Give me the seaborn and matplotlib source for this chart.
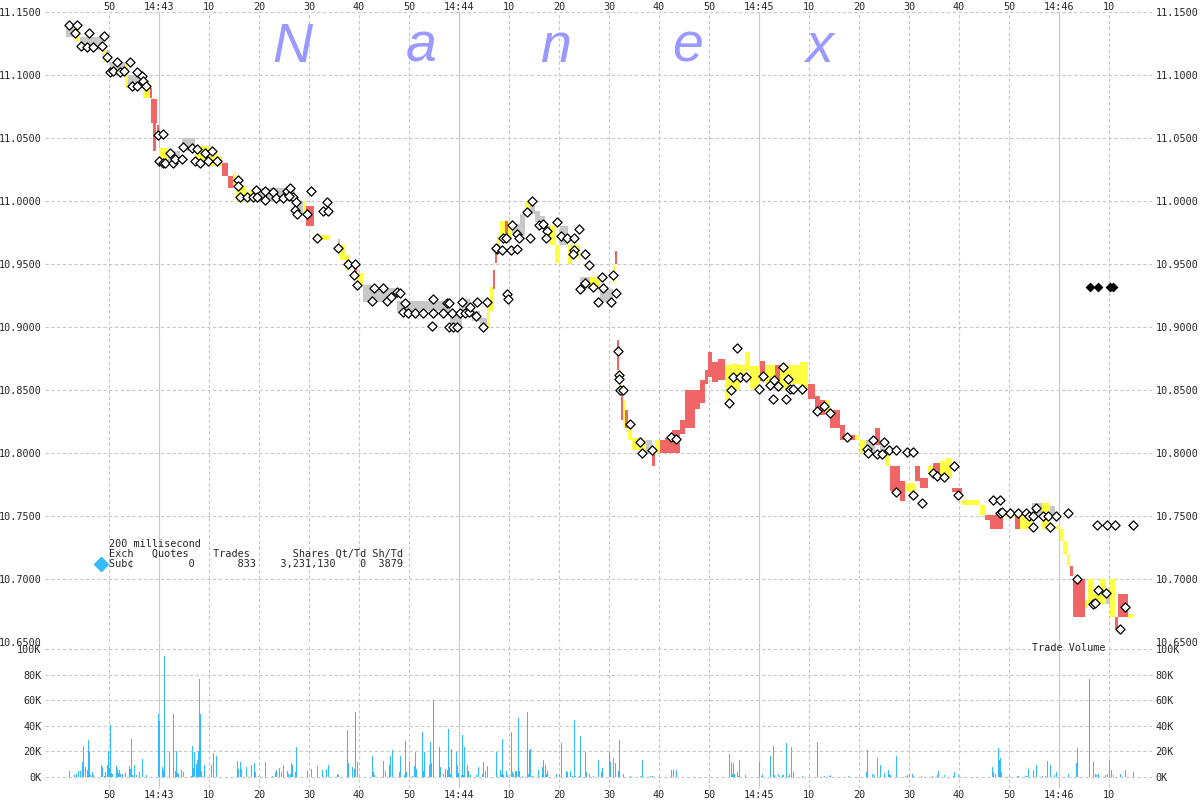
import matplotlib
matplotlib.use("Agg")
import matplotlib.pyplot as plt
from matplotlib.ticker import FixedLocator, FuncFormatter
import seaborn as sns
import pandas as pd

# time axis: seconds after 14:43:00
# NBBO band, one block per quote period (start, end, low, high, kind)
band_t0 = [-18.6, -16.6, -15.8, -11.2, -10.6, -9.8, -6.8, -6.2, -3.2, -1.8,
           -1.6, -1.2, -0.4, 0.0, 0.8, 1.8, 4.6, 7.2, 10.2, 11.6,
           12.6, 13.8, 14.8, 15.4, 17.2, 20.2, 27.2, 27.8, 28.8, 29.4,
           31.0, 35.8, 36.2, 37.2, 39.0, 39.6, 40.8, 43.2, 45.2, 47.6,
           50.2, 56.2, 58.2, 60.6, 62.6, 64.2, 65.6, 66.2, 66.8, 67.2,
           67.6, 68.2, 69.2, 69.8, 70.6, 72.2, 73.2, 74.2, 75.2, 76.2,
           77.2, 78.2, 79.2, 80.2, 81.8, 82.6, 84.2, 86.2, 88.2, 90.8,
           91.2, 91.6, 92.0, 92.4, 92.8, 93.2, 93.8, 94.6, 96.2, 97.4,
           98.6, 99.2, 100.2, 101.2, 102.6, 104.2, 105.2, 107.2, 108.2, 109.2,
           109.8, 110.6, 111.8, 113.2, 114.2, 116.2, 117.2, 118.2, 120.2, 121.2,
           123.2, 124.2, 126.2, 128.2, 129.8, 131.2, 132.2, 133.2, 134.2, 136.2,
           137.2, 139.2, 140.2, 141.4, 143.2, 144.2, 145.2, 146.2, 148.2, 149.2,
           150.2, 151.2, 152.2, 153.8, 154.8, 156.2, 157.2, 158.6, 159.8, 160.6,
           164.2, 165.2, 166.2, 168.8, 171.2, 172.2, 174.6, 176.6, 178.2, 179.2,
           180.2, 180.8, 181.6, 182.2, 182.8, 185.2, 185.8, 186.8, 188.2, 189.4,
           190.2, 191.2, 191.8, 193.8]
band_t1 = [-16.6, -16.0, -11.2, -10.6, -9.8, -6.8, -6.2, -3.2, -1.8, -1.4,
           -0.4, -0.6, 0.0, 0.8, 1.8, 4.2, 7.2, 10.2, 11.6, 12.6,
           13.8, 14.8, 15.4, 17.2, 19.6, 27.2, 27.8, 28.8, 29.4, 31.0,
           34.2, 36.2, 37.2, 38.2, 39.6, 40.8, 43.2, 45.2, 47.2, 50.2,
           56.2, 58.2, 60.6, 62.2, 64.2, 65.6, 66.2, 66.8, 67.2, 67.6,
           68.2, 69.2, 69.8, 70.6, 72.2, 73.2, 74.2, 75.2, 76.2, 77.2,
           78.2, 79.2, 80.2, 81.8, 82.6, 84.2, 86.2, 88.2, 90.8, 91.2,
           91.6, 92.0, 92.4, 92.8, 93.2, 93.8, 94.6, 96.2, 97.4, 98.6,
           99.2, 100.2, 101.2, 102.6, 104.2, 105.2, 107.2, 108.2, 109.2, 109.8,
           110.6, 111.8, 113.2, 114.2, 116.2, 117.2, 118.2, 120.2, 121.2, 123.2,
           124.2, 126.2, 128.2, 129.8, 131.2, 132.2, 133.2, 134.2, 136.2, 137.2,
           139.2, 140.2, 141.4, 143.2, 144.2, 145.2, 146.2, 148.2, 149.2, 150.2,
           151.2, 152.2, 153.8, 154.8, 156.2, 157.2, 158.6, 159.8, 160.6, 164.2,
           165.2, 166.2, 168.8, 171.2, 172.2, 174.6, 176.6, 178.2, 179.2, 180.2,
           180.8, 181.6, 182.2, 182.8, 185.2, 185.8, 186.8, 188.2, 189.4, 190.2,
           191.2, 191.8, 193.8, 194.8]
band_lo = [11.130, 11.127, 11.120, 11.110, 11.110, 11.100, 11.090, 11.090, 11.082, 11.082,
           11.062, 11.040, 11.052, 11.034, 11.032, 11.032, 11.040, 11.032, 11.028, 11.028,
           11.020, 11.010, 11.012, 11.000, 11.000, 11.000, 10.990, 10.990, 10.988, 10.980,
           10.969, 10.960, 10.953, 10.945, 10.940, 10.933, 10.920, 10.920, 10.923, 10.911,
           10.913, 10.910, 10.900, 10.913, 10.905, 10.899, 10.899, 10.913, 10.930, 10.951,
           10.960, 10.968, 10.968, 10.970, 10.975, 10.972, 10.990, 10.990, 10.983, 10.980,
           10.972, 10.965, 10.951, 10.965, 10.950, 10.955, 10.930, 10.930, 10.920, 10.935,
           10.950, 10.866, 10.846, 10.826, 10.820, 10.820, 10.810, 10.802, 10.800, 10.800,
           10.790, 10.800, 10.800, 10.800, 10.800, 10.815, 10.820, 10.835, 10.840, 10.855,
           10.860, 10.856, 10.858, 10.842, 10.850, 10.860, 10.865, 10.851, 10.857, 10.855,
           10.857, 10.851, 10.855, 10.850, 10.843, 10.834, 10.830, 10.830, 10.820, 10.810,
           10.810, 10.810, 10.800, 10.800, 10.806, 10.800, 10.790, 10.770, 10.762, 10.770,
           10.766, 10.778, 10.772, 10.784, 10.780, 10.780, 10.780, 10.769, 10.766, 10.759,
           10.751, 10.747, 10.740, 10.749, 10.740, 10.740, 10.750, 10.740, 10.750, 10.740,
           10.730, 10.720, 10.710, 10.702, 10.670, 10.677, 10.680, 10.680, 10.680, 10.680,
           10.670, 10.660, 10.670, 10.669]
band_hi = [11.140, 11.137, 11.130, 11.120, 11.120, 11.110, 11.110, 11.100, 11.095, 11.090,
           11.081, 11.064, 11.060, 11.042, 11.042, 11.040, 11.050, 11.044, 11.040, 11.036,
           11.030, 11.020, 11.022, 11.012, 11.008, 11.010, 11.003, 11.000, 11.000, 10.996,
           10.973, 10.970, 10.965, 10.957, 10.950, 10.943, 10.933, 10.930, 10.931, 10.921,
           10.921, 10.921, 10.913, 10.922, 10.913, 10.907, 10.920, 10.932, 10.945, 10.965,
           10.972, 10.984, 10.984, 10.983, 10.982, 10.990, 11.000, 11.000, 10.992, 10.988,
           10.980, 10.980, 10.965, 10.980, 10.965, 10.965, 10.940, 10.940, 10.930, 10.950,
           10.960, 10.890, 10.866, 10.846, 10.842, 10.834, 10.822, 10.812, 10.810, 10.810,
           10.802, 10.810, 10.810, 10.812, 10.818, 10.826, 10.850, 10.850, 10.858, 10.866,
           10.880, 10.872, 10.875, 10.870, 10.871, 10.870, 10.880, 10.869, 10.873, 10.870,
           10.870, 10.870, 10.870, 10.872, 10.855, 10.845, 10.842, 10.842, 10.834, 10.822,
           10.814, 10.814, 10.810, 10.810, 10.820, 10.810, 10.800, 10.790, 10.778, 10.776,
           10.776, 10.790, 10.780, 10.790, 10.792, 10.794, 10.796, 10.772, 10.772, 10.763,
           10.759, 10.751, 10.751, 10.753, 10.753, 10.753, 10.760, 10.760, 10.758, 10.742,
           10.740, 10.730, 10.720, 10.710, 10.700, 10.683, 10.700, 10.688, 10.700, 10.688,
           10.700, 10.670, 10.688, 10.672]
# g = normal spread, y = quote change, r = crossed / fading
band_kind = list("gygyggygyr"
                 "rrryyggyyy"
                 "rryyygygyr"
                 "ygyyryggg" "g"
                 "ggggggyyrr"
                 "yyryggyggg"
                 "gyygyygygy"
                 "rryryryyyg"
                 "ryrrrrrrrr"
                 "rrryyyyyry"
                 "ryyyrrryrr"
                 "ryygrgyrry"
                 "yrryryyrry"
                 "yrryrygygy"
                 "yyyrryyyyg"
                 "yrry")

# trades (hollow diamonds)
trade_t = [-18.0, -16.4, -16.8, -15.6, -14.4, -14.0, -13.2, -11.4, -11.0, -10.4,
           -9.8, -9.2, -8.4, -7.8, -7.0, -5.8, -5.4, -4.4, -4.4, -3.4,
           -3.2, -2.6, -0.2, 0.8, 0.0, 0.8, 1.2, 2.2, 2.8, 3.2,
           4.6, 4.8, 6.6, 7.6, 7.2, 8.2, 9.2, 9.8, 10.6, 11.6,
           15.8, 15.8, 16.2, 17.6, 18.8, 19.4, 19.6, 21.2, 21.2, 22.8,
           23.4, 24.8, 25.6, 26.2, 26.8, 26.0, 27.4, 27.2, 27.6, 29.6,
           30.4, 33.6, 32.8, 33.8, 31.6, 35.8, 37.8, 39.2, 39.0, 39.6,
           43.0, 42.6, 44.8, 45.6, 46.4, 47.6, 48.2, 49.2, 48.8, 49.8,
           51.2, 52.8, 54.8, 54.8, 54.6, 56.8, 57.6, 58.0, 58.6, 58.0,
           58.8, 59.6, 60.6, 60.2, 61.2, 62.0, 62.2, 63.6, 65.6, 63.4,
           64.8, 67.6, 69.6, 69.8, 67.4, 68.6, 70.4, 71.6, 68.8, 69.4,
           71.6, 72.0, 70.6, 73.6, 74.6, 74.2, 76.0, 76.8, 77.6, 77.4,
           79.6, 80.4, 81.6, 83.0, 84.0, 83.0, 85.2, 86.0, 82.8, 84.2,
           85.2, 86.8, 88.6, 88.8, 87.8, 90.4, 90.8, 91.4, 91.8, 92.0,
           92.0, 92.2, 92.8, 94.2, 96.2, 96.6, 98.6, 102.4, 103.4, 114.0,
           114.4, 114.8, 115.6, 116.2, 117.4, 120.0, 120.8, 122.2, 122.8, 123.0,
           123.8, 124.8, 125.4, 125.8, 126.2, 126.8, 128.6, 131.6, 133.0, 134.2,
           137.6, 141.6, 141.8, 142.8, 143.6, 144.6, 145.0, 146.0, 147.4, 149.6,
           150.8, 147.4, 150.8, 152.6, 154.8, 155.6, 157.0, 159.0, 159.8, 166.8,
           168.2, 168.2, 168.6, 170.2, 171.8, 173.4, 174.0, 174.8, 175.4, 174.8,
           176.8, 177.8, 179.4, 178.2, 181.8, 183.6, 187.8, 186.8, 187.2, 189.4,
           193.2, 192.2, 187.6, 189.6, 191.2, 194.8]
trade_p = [11.140, 11.140, 11.133, 11.123, 11.122, 11.133, 11.122, 11.123, 11.131, 11.114,
           11.102, 11.103, 11.110, 11.102, 11.103, 11.110, 11.091, 11.102, 11.091, 11.099,
           11.095, 11.091, 11.052, 11.053, 11.032, 11.030, 11.030, 11.038, 11.030, 11.033,
           11.033, 11.043, 11.042, 11.041, 11.032, 11.030, 11.038, 11.032, 11.040, 11.032,
           11.017, 11.012, 11.003, 11.003, 11.003, 11.009, 11.003, 11.008, 11.001, 11.007,
           11.002, 11.002, 11.008, 11.010, 11.003, 11.004, 10.999, 10.993, 10.990, 10.990,
           11.008, 10.999, 10.992, 10.992, 10.971, 10.963, 10.950, 10.950, 10.941, 10.933,
           10.931, 10.921, 10.931, 10.921, 10.924, 10.928, 10.927, 10.919, 10.912, 10.911,
           10.911, 10.911, 10.922, 10.911, 10.901, 10.911, 10.919, 10.919, 10.911, 10.900,
           10.900, 10.900, 10.920, 10.911, 10.911, 10.912, 10.916, 10.920, 10.920, 10.909,
           10.900, 10.962, 10.926, 10.922, 10.963, 10.961, 10.961, 10.962, 10.971, 10.971,
           10.974, 10.971, 10.981, 10.991, 11.000, 10.971, 10.981, 10.982, 10.976, 10.971,
           10.983, 10.972, 10.971, 10.971, 10.978, 10.961, 10.958, 10.949, 10.958, 10.930,
           10.935, 10.932, 10.940, 10.931, 10.920, 10.920, 10.941, 10.927, 10.881, 10.862,
           10.859, 10.850, 10.850, 10.823, 10.809, 10.800, 10.802, 10.813, 10.811, 10.840,
           10.850, 10.860, 10.883, 10.860, 10.860, 10.851, 10.861, 10.854, 10.843, 10.858,
           10.853, 10.868, 10.843, 10.859, 10.851, 10.851, 10.851, 10.833, 10.837, 10.832,
           10.813, 10.803, 10.800, 10.810, 10.799, 10.799, 10.809, 10.802, 10.802, 10.801,
           10.801, 10.769, 10.767, 10.760, 10.784, 10.782, 10.781, 10.790, 10.767, 10.763,
           10.763, 10.752, 10.753, 10.752, 10.752, 10.752, 10.750, 10.750, 10.756, 10.741,
           10.750, 10.750, 10.750, 10.741, 10.752, 10.700, 10.691, 10.680, 10.681, 10.689,
           10.678, 10.660, 10.743, 10.743, 10.743, 10.743]

# out-of-sequence prints (filled diamonds)
odd_t = [186.2, 187.8, 190.2, 190.8]
odd_p = [10.932, 10.932, 10.932, 10.932]

# trade volume per 200 ms, thousands of shares
vol_t = [-18.0, -17.0, -16.6, -16.2, -15.8, -15.4, -15.2, -14.8, -14.4, -14.2,
         -14.0, -13.8, -13.4, -13.2, -11.6, -11.4, -11.0, -10.8, -10.4, -10.2,
         -10.0, -9.8, -9.6, -9.4, -8.6, -8.4, -8.2, -8.0, -7.8, -7.4,
         -6.8, -6.0, -5.8, -5.6, -5.4, -5.0, -4.6, -4.0, -3.4, -2.6,
         -0.2, 0.0, 0.6, 0.8, 1.0, 2.0, 2.8, 3.2, 3.4, 3.6,
         3.8, 4.4, 4.8, 6.4, 6.6, 6.8, 7.0, 7.4, 7.6, 7.8,
         8.0, 8.2, 8.4, 9.0, 10.4, 10.8, 11.4, 15.6, 15.8, 16.2,
         16.4, 17.4, 18.4, 19.0, 19.2, 19.8, 21.2, 22.6, 23.2, 23.4,
         24.0, 24.4, 24.8, 25.6, 25.8, 26.2, 26.4, 26.6, 27.2, 27.4,
         29.6, 30.4, 31.6, 32.6, 33.4, 33.8, 35.6, 35.8, 37.6, 37.8,
         38.6, 39.0, 39.2, 39.6, 42.6, 42.8, 43.0, 44.8, 45.2, 46.0,
         46.2, 46.6, 48.0, 48.2, 49.0, 49.2, 49.4, 50.0, 50.6, 51.0,
         51.2, 51.4, 52.6, 52.8, 53.0, 54.0, 54.2, 54.4, 54.8, 56.0,
         56.2, 56.8, 57.2, 57.6, 57.8, 58.0, 58.2, 58.4, 59.4, 59.6,
         59.8, 60.4, 60.6, 60.8, 61.0, 61.6, 61.8, 62.2, 63.4, 63.8,
         64.6, 64.8, 65.2, 65.6, 67.4, 68.2, 68.4, 68.6, 68.8, 69.4,
         69.6, 70.4, 70.6, 70.8, 71.2, 71.4, 71.8, 72.0, 72.6, 73.6,
         73.8, 74.0, 74.2, 74.6, 75.8, 76.6, 76.8, 77.2, 77.4, 77.6,
         79.4, 80.0, 80.4, 81.4, 81.6, 82.2, 82.6, 83.0, 83.2, 84.0,
         84.2, 85.2, 85.4, 86.0, 86.8, 87.8, 88.4, 88.6, 90.0, 90.2,
         90.8, 91.2, 91.8, 92.0, 92.8, 94.2, 96.2, 96.6, 98.2, 98.6,
         102.4, 102.8, 103.4, 114.0, 114.4, 114.6, 114.8, 115.0, 115.6, 115.8,
         116.0, 117.2, 120.0, 120.4, 120.6, 122.2, 122.8, 123.0, 123.8, 124.6,
         124.8, 125.4, 125.8, 126.0, 126.4, 126.8, 128.6, 131.6, 133.0, 134.0,
         134.2, 137.8, 141.4, 141.6, 142.6, 143.0, 143.6, 144.2, 145.0, 145.8,
         146.0, 146.2, 147.4, 149.2, 149.6, 150.0, 150.6, 150.8, 152.4, 154.6,
         155.6, 155.8, 157.0, 158.8, 159.0, 159.8, 166.6, 166.8, 167.2, 167.8,
         168.0, 168.2, 168.4, 170.0, 171.6, 171.8, 173.2, 173.4, 173.8, 174.8,
         175.4, 176.6, 177.2, 177.6, 178.2, 179.0, 179.4, 181.8, 183.4, 183.6,
         186.0, 186.8, 187.2, 187.4, 187.8, 189.2, 189.6, 190.0, 190.4, 190.8,
         192.2, 193.2, 194.8]
vol_k = [4.7, 1.6, 2.4, 4.7, 4.7, 11.7, 24.2, 7.8, 5.5, 28.9,
         20.3, 1.6, 3.9, 1.6, 9.4, 7.8, 0.8, 3.9, 9.4, 20.3,
         7.0, 40.6, 3.1, 2.3, 8.6, 6.3, 3.1, 5.5, 2.3, 2.3,
         3.1, 8.6, 6.3, 29.7, 1.6, 9.4, 1.6, 3.9, 14.0, 1.6,
         49.0, 43.8, 7.8, 5.5, 94.5, 19.5, 49.0, 4.7, 20.3, 3.1,
         2.3, 5.5, 3.9, 0.8, 24.2, 7.0, 19.5, 10.2, 13.3, 20.3,
         76.6, 49.0, 4.7, 9.4, 9.4, 18.8, 16.4, 12.5, 6.3, 11.7,
         6.3, 7.8, 9.4, 10.9, 3.9, 0.8, 11.7, 0.8, 3.9, 5.5,
         7.0, 3.9, 9.4, 4.7, 2.3, 2.3, 10.9, 9.4, 3.9, 23.4,
         4.7, 6.3, 8.6, 5.5, 6.3, 9.4, 2.3, 1.6, 36.7, 10.9,
         7.8, 6.3, 50.8, 11.7, 16.4, 3.9, 1.6, 12.5, 4.7, 9.4,
         16.4, 21.0, 3.9, 16.4, 1.6, 28.1, 3.9, 12.5, 0.8, 8.6,
         19.5, 6.3, 35.2, 4.7, 19.5, 9.4, 27.3, 10.9, 60.2, 23.4,
         7.8, 2.3, 6.3, 5.5, 37.5, 7.8, 2.3, 21.9, 19.5, 9.4,
         3.1, 1.6, 32.8, 1.6, 23.4, 9.4, 4.7, 1.6, 1.6, 7.8,
         2.3, 11.7, 4.7, 8.6, 19.5, 5.5, 2.3, 29.7, 1.6, 4.7,
         1.6, 35.2, 3.9, 2.3, 4.7, 4.7, 46.0, 4.7, 0.8, 50.8,
         2.3, 21.0, 21.9, 0.8, 5.5, 7.8, 13.3, 9.4, 2.3, 4.7,
         2.3, 2.3, 26.6, 4.7, 3.9, 4.7, 0.8, 44.5, 0.8, 0.8,
         32.0, 19.5, 3.9, 2.3, 0.8, 13.3, 3.9, 7.0, 19.5, 11.7,
         14.8, 10.9, 4.7, 28.9, 2.3, 0.8, 0.8, 13.3, 0.8, 0.8,
         5.5, 5.5, 5.5, 18.0, 11.7, 2.3, 10.9, 2.3, 3.9, 0.8,
         13.3, 1.6, 11.7, 0.8, 2.3, 16.4, 24.2, 1.6, 2.3, 1.6,
         1.6, 26.6, 0.8, 2.3, 23.4, 3.9, 0.8, 27.3, 0.8, 0.8,
         1.6, 0.8, 3.9, 21.0, 2.3, 1.6, 14.8, 9.4, 3.1, 5.5,
         2.3, 1.6, 16.4, 0.8, 1.6, 2.3, 2.3, 0.8, 0.8, 0.8,
         1.6, 4.7, 1.6, 0.8, 3.9, 1.6, 7.8, 3.9, 2.3, 22.7,
         13.3, 14.8, 3.9, 0.8, 0.8, 0.8, 0.8, 0.8, 6.3, 5.5,
         9.4, 0.8, 0.8, 12.5, 9.4, 1.6, 3.9, 2.3, 10.9, 22.7,
         76.3, 11.7, 2.3, 1.6, 2.3, 1.6, 2.3, 13.3, 5.5, 1.6,
         2.3, 5.5, 3.9]

price_ticks = [10.65, 10.70, 10.75, 10.80, 10.85, 10.90, 10.95, 11.00, 11.05, 11.10, 11.15]
vol_ticks = [0, 20, 40, 60, 80, 100]
minute_ticks = [0, 60, 120, 180]
second_ticks = [-10, 10, 20, 30, 40, 50, 70, 80, 90, 100, 110, 130, 140, 150, 160, 170, 190]

legend_lines = ["200 millisecond",
                "Exch   Quotes    Trades       Shares Qt/Td Sh/Td",
                "Sub\u00a2         0       833    3,231,130    0  3879"]

KIND_COLORS = {"g": "#C8C8C8", "y": "#FFFF44", "r": "#F06666"}
GRID = "#C8C8C8"
VOL_BLUE = "#33BBFF"
MONO = "DejaVu Sans Mono"
FS = 7.3

sns.set_style("white")
plt.rcParams["font.family"] = [MONO, "DejaVu Sans"]

W, H = 1200, 800
fig = plt.figure(figsize=(12, 8), dpi=100)
ax = fig.add_axes([45 / W, 1 - 642 / H, 1107 / W, 630 / H])
axv = fig.add_axes([45 / W, 1 - 788 / H, 1107 / W, 145 / H], sharex=ax)

n = min(len(band_t0), len(band_t1), len(band_lo), len(band_hi), len(band_kind))
band = pd.DataFrame({"t0": band_t0[:n], "t1": band_t1[:n], "lo": band_lo[:n],
                     "hi": band_hi[:n], "kind": band_kind[:n]})
ax.bar(band.t0, band.hi - band.lo, width=band.t1 - band.t0, bottom=band.lo, align="edge",
       color=band.kind.map(KIND_COLORS), linewidth=0, zorder=3)

trades = pd.DataFrame({"t": trade_t, "p": trade_p})
sns.scatterplot(data=trades, x="t", y="p", marker="D", s=22, color="white",
                edgecolor="black", linewidth=0.9, ax=ax, zorder=5, legend=False)
sns.scatterplot(x=odd_t, y=odd_p, marker="D", s=18, color="black", edgecolor="black",
                linewidth=0.8, ax=ax, zorder=5, legend=False)

axv.bar(vol_t, vol_k, width=0.2, align="edge", color=VOL_BLUE, linewidth=0, antialiased=False)

ax.set_xlim(-22.8, 198.6)
ax.set_ylim(10.65, 11.15)
axv.set_ylim(-8.6, 104.7)

ax.xaxis.set_major_locator(FixedLocator(minute_ticks))
ax.xaxis.set_minor_locator(FixedLocator(second_ticks))
ax.xaxis.set_major_formatter(FuncFormatter(lambda v, _: "14:%02d" % (43 + int(v) // 60)))
ax.xaxis.set_minor_formatter(FuncFormatter(lambda v, _: "%d" % (int(v) % 60)))
ax.yaxis.set_major_locator(FixedLocator(price_ticks))
ax.yaxis.set_major_formatter(FuncFormatter(lambda v, _: "%.4f" % v))
axv.yaxis.set_major_locator(FixedLocator(vol_ticks))
axv.yaxis.set_major_formatter(FuncFormatter(lambda v, _: "%dK" % v))

for a in (ax, axv):
    a.set_facecolor("white")
    a.set_axisbelow(True)
    for s in a.spines.values():
        s.set_visible(False)
    a.grid(axis="x", which="major", color=GRID, lw=0.8, ls="-")
    a.grid(axis="x", which="minor", color=GRID, lw=0.8, ls=(0, (3, 2.2)))
    a.grid(axis="y", which="major", color=GRID, lw=0.8, ls=(0, (3, 2.2)))
    a.tick_params(axis="y", length=0, labelleft=True, labelright=True, pad=2.5, labelsize=FS)
    a.set_xlabel("")
    a.set_ylabel("")

ax.tick_params(axis="x", which="both", length=0, labelbottom=False, labeltop=True, pad=0.3, labelsize=FS)
axv.tick_params(axis="x", which="both", length=0, labelbottom=True, labeltop=False, pad=1.5, labelsize=FS)

# Nanex watermark
for ch, xc in zip("Nanex", [292, 421, 556, 688, 819]):
    fig.text(xc / W, 1 - 62 / H, ch, ha="center", va="baseline", fontsize=40,
             family="Liberation Sans", style="italic", color="#9999FF", zorder=1)

# stats box
for i, line in enumerate(legend_lines):
    fig.text(109 / W, 1 - (544 + 10 * i) / H, line, ha="left", va="center", fontsize=FS, family=MONO)
ax.plot([(101 - 45) / 1107], [(642 - 564) / 630], marker="D", ms=7, color=VOL_BLUE,
        transform=ax.transAxes, clip_on=False, zorder=6)

fig.text(1032 / W, 1 - 648 / H, "Trade Volume", ha="left", va="center", fontsize=FS, family=MONO)

fig.savefig("out.png", dpi=100)
